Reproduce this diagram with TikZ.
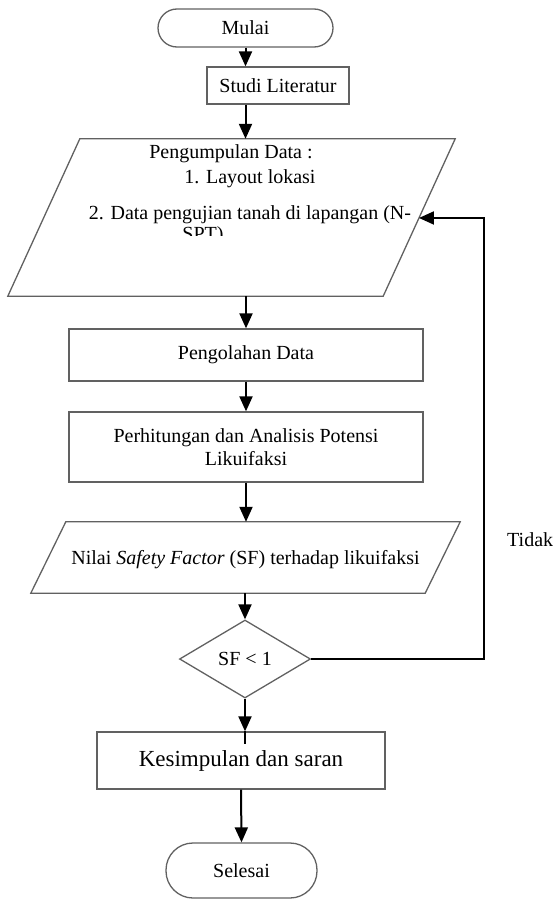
\documentclass[tikz,border=0pt]{standalone}
\usepackage{fontspec}
\setmainfont{Liberation Serif}
\usetikzlibrary{arrows.meta,shapes.geometric,calc}
\begin{document}
\begin{tikzpicture}[x=1pt,y=-1pt,
  shapeline/.style={draw=black!62, line width=1.3pt},
  box/.style={shapeline, rectangle, inner sep=0pt, align=center, font=\fontsize{20}{23}\selectfont},
  ghost/.style={rectangle, inner sep=0pt, draw=none},
  arr/.style={draw=black, line width=2pt, -{Triangle[length=15pt,width=13pt]}},
  plainline/.style={draw=black, line width=2pt},
  plain/.style={font=\fontsize{20}{24}\selectfont, inner sep=0pt}
]
\useasboundingbox (0,0) rectangle (553,899);

% terminals and boxes
\node[box, rounded corners=19pt, minimum width=175pt, minimum height=38pt] (m) at (245.5,28) {Mulai};
\node[box, minimum width=142pt, minimum height=37pt] (s) at (278,85.5) {Studi Literatur};

% input parallelogram 1
\node[ghost, minimum width=447pt, minimum height=157pt] (p) at (231.5,217.5) {};
\coordinate (ptl) at ($(p.north west)+(72,0)$);
\coordinate (ptr) at (p.north east);
\coordinate (pbr) at ($(p.south east)+(-72,0)$);
\coordinate (pbl) at (p.south west);
\draw[shapeline] (ptl) -- (ptr) -- (pbr) -- (pbl) -- cycle;
\node[plain, anchor=base] (t1) at (231,158) {Pengumpulan Data :};
\node[plain, anchor=base] (t2) at (250,183) {1. Layout lokasi};
\node[plain, anchor=base] (t3) at (250,219) {2. Data pengujian tanah di lapangan (N-};
\begin{scope}
  \clip (0,0) rectangle (553,235);
  \node[plain, anchor=base, text height=11pt, text depth=0pt] (t4) at (203,240) {SPT)};
\end{scope}
\coordinate (fbin) at ($(ptr)!0.503!(pbr)$);

\node[box, minimum width=354pt, minimum height=52pt] (po) at (246,355) {Pengolahan Data};
\node[box, minimum width=354pt, minimum height=70pt] (ph) at (246,447) {Perhitungan dan Analisis Potensi\\Likuifaksi};

% input parallelogram 2
\node[ghost, minimum width=429pt, minimum height=71pt] (n) at (245.5,557.5) {};
\coordinate (ntl) at ($(n.north west)+(35,0)$);
\coordinate (ntr) at (n.north east);
\coordinate (nbr) at ($(n.south east)+(-35,0)$);
\coordinate (nbl) at (n.south west);
\draw[shapeline] (ntl) -- (ntr) -- (nbr) -- (nbl) -- cycle;
\node[plain, anchor=base] (nt) at (245.5,564) {Nilai \textit{Safety Factor} (SF) terhadap likuifaksi};

% decision
\node[shapeline, diamond, aspect=1.68, minimum width=131pt, minimum height=78pt, inner sep=0pt, font=\fontsize{20}{24}\selectfont] (d) at (245,659) {SF < 1};

\node[box, minimum width=288pt, minimum height=57pt, font=\fontsize{23}{27}\selectfont] (k) at (241,760.5) {Kesimpulan dan saran};
\node[box, rounded corners=27pt, minimum width=151pt, minimum height=55pt] (e) at (241.5,870.5) {Selesai};

\node[plain, anchor=base west] (td) at (507,546) {Tidak};

% connectors
\draw[arr] (m.south) -- (s.north -| m.south);
\draw[arr] (s.south -| m.south) -- (p.north -| m.south);
\draw[arr] (p.south -| po.north) -- (po.north);
\draw[arr] (po.south) -- (ph.north);
\draw[arr] (ph.south) -- (n.north -| ph.south);
\draw[arr] (n.south -| d.north) -- (d.north);
\draw[arr] (d.south) -- (k.north -| d.south);
\draw[plainline] (k.north -| d.south) -- ($(k.north -| d.south)+(0,13)$);
\draw[arr] (k.south) -- (e.north);
\coordinate (fc) at (484,659);
\draw[arr] (d.east) -- (fc) |- (fbin);
\end{tikzpicture}
\end{document}
